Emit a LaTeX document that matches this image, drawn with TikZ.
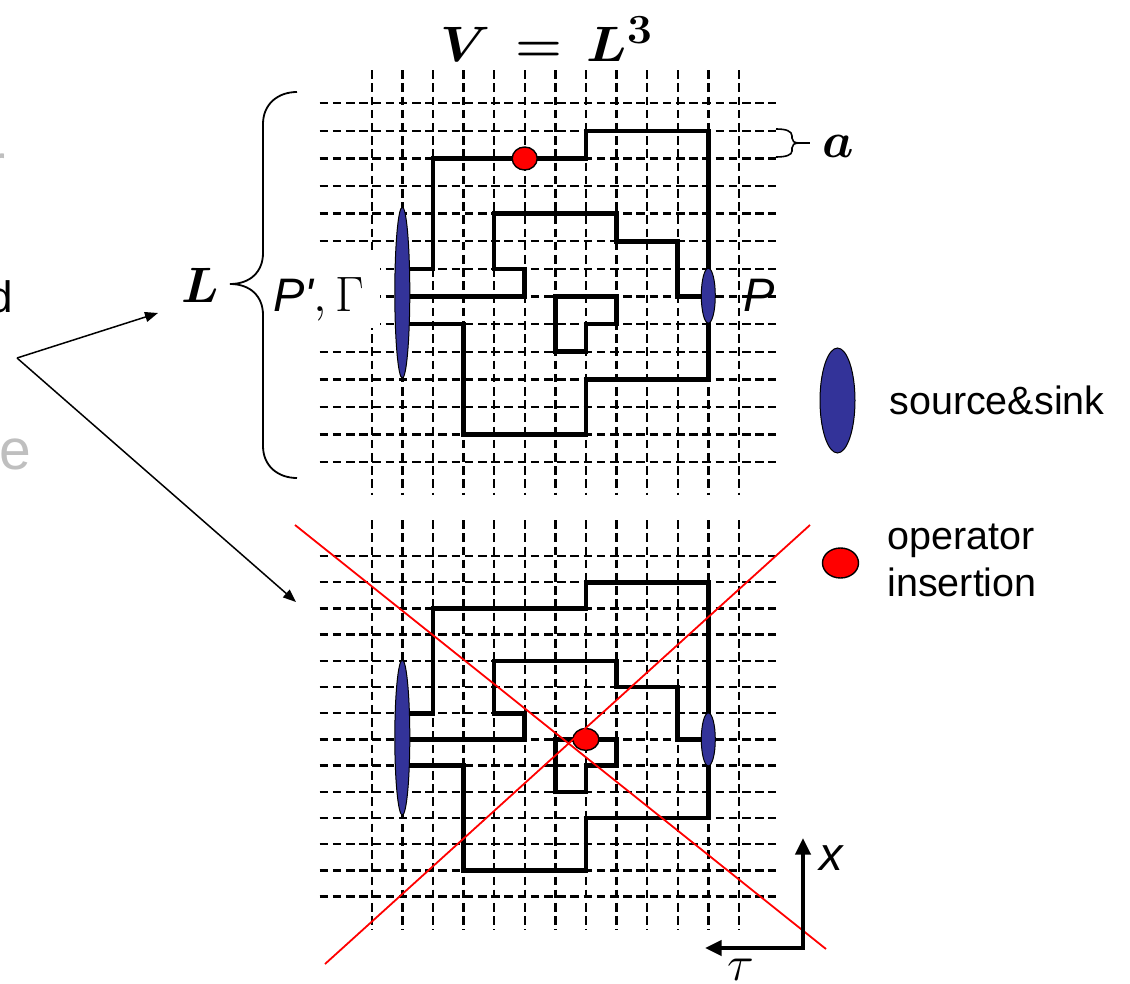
\documentclass[tikz,border=0pt]{standalone}
\usepackage{fontspec}
\newfontfamily\arial{Liberation Sans}[Ligatures=TeXOff]
\usetikzlibrary{arrows.meta,shapes.geometric}
\definecolor{ssblue}{RGB}{51,51,153}
\definecolor{fraggray}{RGB}{191,191,191}
\begin{document}
\begin{tikzpicture}[x=0.5pt,y=-0.5pt,
  gridline/.style={line width=1.2pt, dash pattern=on 4.3pt off 2.3pt},
  pathline/.style={line width=2.3pt, line join=miter},
  srcsink/.style={ellipse, draw=black, line width=0.5pt, fill=ssblue, inner sep=0pt},
  opdot/.style={ellipse, draw=black, line width=0.7pt, fill=red, inner sep=0pt, minimum width=12.5pt, minimum height=11.5pt},
  xline/.style={red, line width=0.9pt},
  axisarrow/.style={line width=2.3pt, line join=miter, {Triangle[length=8.3pt,width=7.5pt]}-{Triangle[length=8.3pt,width=7.5pt]}},
  ptr/.style={line width=0.75pt, -{Triangle[length=6.5pt,width=5pt]}},
  lbl/.style={inner sep=0pt},
  bracestyle/.style={line width=0.9pt},
  legend/.style={inner sep=0pt, font=\arial\fontsize{19.75}{23.25}\selectfont},
  sanslbl/.style={inner sep=0pt, font=\arial\fontsize{23.5}{28}\selectfont\itshape},
  mathbig/.style={inner sep=0pt, font=\fontsize{29}{34}\selectfont\boldmath},
]
\useasboundingbox (0,0) rectangle (1130,984);

% ---------- top lattice ----------
\begin{scope}[shift={(371.7,103.3)}, x=15.3pt, y=-13.8pt]
  \foreach \i in {0,...,12} \draw[gridline] (\i,-1.2) -- (\i,14.2);
  \foreach \j in {0,...,13} \draw[gridline] (-1.7,\j) -- (13.2,\j);
\end{scope}
\fill[white] (268,250) rectangle (380,328);
\begin{scope}[shift={(371.7,103.3)}, x=15.3pt, y=-13.8pt]
  \draw[pathline] (1,6) -- (2,6) -- (2,2) -- (7,2) -- (7,1) -- (11,1) -- (11,7);
  \draw[pathline] (1,7) -- (5,7) -- (5,6) -- (4,6) -- (4,4) -- (8,4) -- (8,5) -- (10,5) -- (10,7) -- (11,7);
  \draw[pathline] (1,8) -- (3,8) -- (3,12) -- (7,12) -- (7,10) -- (11,10) -- (11,7);
  \draw[pathline] (6,7) -- (8,7) -- (8,8) -- (7,8) -- (7,9) -- (6,9) -- cycle;
  \node[srcsink, minimum width=7.5pt, minimum height=85.5pt] (srcT) at (1,6.86) {};
  \node[srcsink, minimum width=7pt, minimum height=27.5pt] (snkT) at (11,6.97) {};
  \node[opdot] (opT) at (5,2) {};
\end{scope}

% ---------- bottom lattice ----------
\begin{scope}[shift={(371.7,556)}, x=15.3pt, y=-13.1pt]
  \foreach \i in {0,...,12} \draw[gridline] (\i,-1.37) -- (\i,14.27);
  \foreach \j in {0,...,13} \draw[gridline] (-1.7,\j) -- (13.2,\j);
  \draw[pathline] (1,6) -- (2,6) -- (2,2) -- (7,2) -- (7,1) -- (11,1) -- (11,7);
  \draw[pathline] (1,7) -- (5,7) -- (5,6) -- (4,6) -- (4,4) -- (8,4) -- (8,5) -- (10,5) -- (10,7) -- (11,7);
  \draw[pathline] (1,8) -- (3,8) -- (3,12) -- (7,12) -- (7,10) -- (11,10) -- (11,7);
  \draw[pathline] (6,7) -- (8,7) -- (8,8) -- (7,8) -- (7,9) -- (6,9) -- cycle;
  \node[srcsink, minimum width=7.5pt, minimum height=77.5pt] (srcB) at (1,6.93) {};
  \node[srcsink, minimum width=7pt, minimum height=26.5pt] (snkB) at (11,7) {};
  \node[opdot, minimum width=13pt, minimum height=11pt] (opB) at (7,7) {};
\end{scope}

% ---------- crossing-out lines ----------
\coordinate (xa1) at (295,525);
\coordinate (xa2) at (826,949);
\coordinate (xb1) at (325,964);
\coordinate (xb2) at (810,525);
\draw[xline] (xa1) -- (xa2);
\draw[xline] (xb1) -- (xb2);

% ---------- labels ----------
\node[lbl, anchor=base, xscale=1.08, font=\fontsize{31}{36}\selectfont\boldmath] (title) at (547,62) {$V\mskip2mu=\mskip2mu L^3$};
\node[mathbig, anchor=base] (Llab) at (200,303) {$L$};
\node[mathbig, anchor=base west] (alab) at (822,158) {$a$};
\node[sanslbl, anchor=base west] (Pplab) at (273,312) {P'\upshape$,\Gamma$};
\node[sanslbl, anchor=base west] (Plab) at (743,312) {P};
\node[sanslbl, anchor=base west] (xlab) at (819,870) {x};
\node[lbl, anchor=base] (taulab) at (741,980) {\fontsize{23}{28}\selectfont$\tau$};

% ---------- braces ----------
\draw[bracestyle] (297,92) .. controls (278,92) and (263,104) .. (263,124) -- (263,253)
  .. controls (263,272) and (250,284) .. (230,284)
  .. controls (250,284) and (263,296) .. (263,315) -- (263,446)
  .. controls (263,466) and (278,478) .. (297,478);
\draw[line width=0.8pt] (776,129) .. controls (786,129) and (792,131) .. (792,136) -- (792,138)
  .. controls (792,141) and (794,143) .. (799,143)
  .. controls (794,143) and (792,145) .. (792,148) -- (792,151)
  .. controls (792,155) and (786,157) .. (776,157);
\draw[line width=0.8pt] (799,143) -- (810,143);

% ---------- legend ----------
\node[srcsink, minimum width=17.5pt, minimum height=52.5pt] (legSS) at (837.5,400.5) {};
\node[legend, anchor=base west] (legSStxt) at (889,415) {source\&sink};
\node[opdot, minimum width=18pt, minimum height=15pt] (legOp) at (840.5,563) {};
\node[legend, anchor=north west, align=left] (legOptxt) at (887,524) {operator\\insertion};

% ---------- axes ----------
\coordinate (orig) at (803,948);
\coordinate (xtip) at (803,838);
\coordinate (ttip) at (705,948);
\draw[axisarrow] (xtip) -- (orig) -- (ttip);

% ---------- left fragments and pointers ----------
\node[lbl, anchor=base west] (dfrag) at (-11.5,313) {\arial\fontsize{22}{26}\selectfont d};
\node[lbl, anchor=base west, text=fraggray] (efrag) at (-1,469) {\arial\fontsize{28.5}{34}\selectfont e};
\node[lbl, anchor=base east, text=fraggray] (rfrag) at (6,185) {\arial\fontsize{28.5}{34}\selectfont r};
\coordinate (fork) at (17,358);
\coordinate (toL) at (158,313);
\coordinate (toB) at (296,602);
\draw[ptr] (fork) -- (toL);
\draw[ptr] (fork) -- (toB);
\end{tikzpicture}
\end{document}
